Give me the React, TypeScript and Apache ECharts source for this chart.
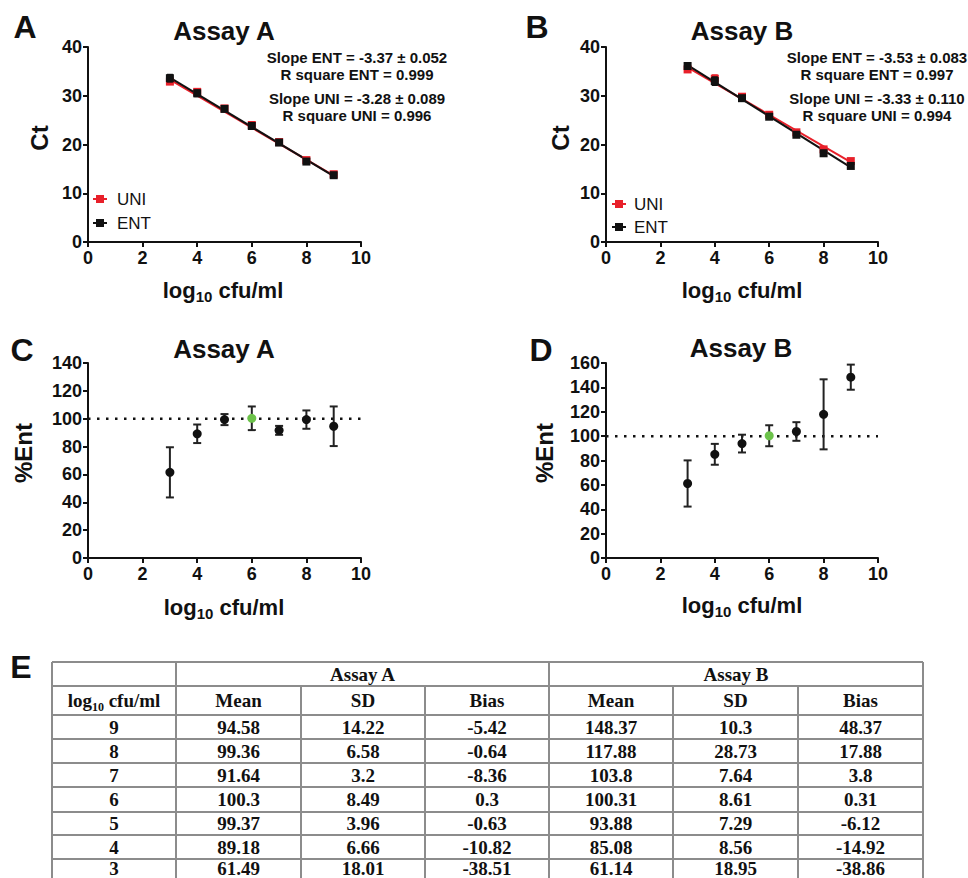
import React, { useEffect, useRef } from 'react';
import * as echarts from 'echarts';

// ---------- data ----------
const log10Cfu = [3, 4, 5, 6, 7, 8, 9];
const fitX = [3, 9];

// Panel A (Assay A standard curves, Ct)
const ctEntA = [33.6, 30.5, 27.3, 23.8, 20.4, 16.5, 13.7];
const ctEntAErr = [0.7, 0.6, 0.3, 0.3, 0.3, 0.5, 0.3];
const ctUniA = [32.9, 30.8, 27.4, 24.0, 20.5, 16.8, 13.9];
const ctUniAErr = [0.4, 0.5, 0.3, 0.4, 0.3, 0.4, 0.3];
const fitEntA = [33.7, 13.5];
const fitUniA = [33.3, 13.6];

// Panel B (Assay B standard curves, Ct)
const ctEntB = [36.1, 33.0, 29.5, 25.7, 22.0, 18.2, 15.6];
const ctEntBErr = [0.6, 0.8, 0.4, 0.4, 0.4, 0.5, 0.4];
const ctUniB = [35.4, 33.5, 29.8, 26.1, 22.5, 19.0, 16.6];
const ctUniBErr = [0.4, 0.7, 0.4, 0.4, 0.4, 0.4, 0.4];
const fitEntB = [36.3, 15.3];
const fitUniB = [35.8, 16.4];

const statsA = ['Slope ENT = -3.37 \u00b1 0.052', 'R square ENT = 0.999', 'Slope UNI = -3.28 \u00b1 0.089', 'R square UNI = 0.996'];
const statsB = ['Slope ENT = -3.53 \u00b1 0.083', 'R square ENT = 0.997', 'Slope UNI = -3.33 \u00b1 0.110', 'R square UNI = 0.994'];

// Panels C/D and table E (%Ent), ordered by log10 cfu/ml 3..9
const meanA = [61.49, 89.18, 99.37, 100.3, 91.64, 99.36, 94.58];
const sdA = [18.01, 6.66, 3.96, 8.49, 3.2, 6.58, 14.22];
const biasA = [-38.51, -10.82, -0.63, 0.3, -8.36, -0.64, -5.42];
const meanB = [61.14, 85.08, 93.88, 100.31, 103.8, 117.88, 148.37];
const sdB = [18.95, 8.56, 7.29, 8.61, 7.64, 28.73, 10.3];
const biasB = [-38.86, -14.92, -6.12, 0.31, 3.8, 17.88, 48.37];
const calibratorLog = 6;
const referenceLevel = 100;

const tableAssays = ['Assay A', 'Assay B'];
const tableColumns = ['Mean', 'SD', 'Bias'];
const tableRowLogs = [9, 8, 7, 6, 5, 4, 3];

// ---------- styles ----------
const SANS = '"Liberation Sans", Arial, Helvetica, sans-serif';
const SERIF = '"Liberation Serif", "Times New Roman", serif';
const RED = '#e8202a';
const BLACK = '#111111';
const GREEN = '#6cc24a';
const BORDER = '#8c8c8c';
const TFONT = 19;

const grids = [
  { left: 88, top: 47, width: 273, height: 195 },
  { left: 606, top: 47, width: 272, height: 195 },
  { left: 88, top: 363, width: 273, height: 195 },
  { left: 606, top: 363, width: 272, height: 195 },
];

function xAxisCfg(i: number) {
  return {
    type: 'value', gridIndex: i, min: 0, max: 10, interval: 2,
    axisLine: { show: true, onZero: false, lineStyle: { color: BLACK, width: 2 } },
    axisTick: { show: true, length: 5, lineStyle: { color: BLACK, width: 2 } },
    axisLabel: { color: BLACK, fontSize: 18, fontWeight: 'bold', fontFamily: SANS, margin: 7 },
    splitLine: { show: false },
  };
}
function yAxisCfg(i: number, max: number, interval: number) {
  return {
    type: 'value', gridIndex: i, min: 0, max, interval,
    axisLine: { show: true, onZero: false, lineStyle: { color: BLACK, width: 2 } },
    axisTick: { show: true, length: 5, lineStyle: { color: BLACK, width: 2 } },
    axisLabel: { color: BLACK, fontSize: 18, fontWeight: 'bold', fontFamily: SANS, margin: 6 },
    splitLine: { show: false },
  };
}

function errorSeries(gi: number, ys: number[], errs: number[], color: string, cap: number, z: number) {
  return {
    type: 'custom', xAxisIndex: gi, yAxisIndex: gi, z,
    encode: { x: 0, y: [1, 2] },
    data: log10Cfu.map((x, i) => [x, ys[i] - errs[i], ys[i] + errs[i]]),
    renderItem: (params: any, api: any) => {
      const x = api.value(0);
      const lo = api.coord([x, api.value(1)]);
      const hi = api.coord([x, api.value(2)]);
      const style = { stroke: color, lineWidth: 2 };
      return {
        type: 'group',
        children: [
          { type: 'line', shape: { x1: lo[0], y1: lo[1], x2: hi[0], y2: hi[1] }, style },
          { type: 'line', shape: { x1: lo[0] - cap, y1: lo[1], x2: lo[0] + cap, y2: lo[1] }, style },
          { type: 'line', shape: { x1: hi[0] - cap, y1: hi[1], x2: hi[0] + cap, y2: hi[1] }, style },
        ],
      };
    },
  };
}

function fitLine(gi: number, ys: number[], color: string, z: number) {
  return {
    type: 'line', xAxisIndex: gi, yAxisIndex: gi, z,
    data: fitX.map((x, i) => [x, ys[i]]),
    symbol: 'none', lineStyle: { color, width: 2 },
  };
}

function points(gi: number, ys: number[], color: string, z: number) {
  return {
    type: 'scatter', xAxisIndex: gi, yAxisIndex: gi, z,
    data: log10Cfu.map((x, i) => [x, ys[i]]),
    symbol: 'rect', symbolSize: 8,
    itemStyle: { color, opacity: 1 },
  };
}

function pctPoints(gi: number, ys: number[]) {
  return {
    type: 'scatter', xAxisIndex: gi, yAxisIndex: gi, z: 5,
    data: log10Cfu.map((x, i) => [x, ys[i]]),
    symbol: 'circle', symbolSize: 9,
    itemStyle: {
      opacity: 1,
      color: (p: any) => (log10Cfu[p.dataIndex] === calibratorLog ? GREEN : BLACK),
    },
  };
}

function refLine(gi: number) {
  return {
    type: 'line', xAxisIndex: gi, yAxisIndex: gi, z: 1,
    data: [[0, referenceLevel], [10, referenceLevel]],
    symbol: 'none',
    lineStyle: { color: BLACK, width: 2.5, type: [2.5, 6.5] },
  };
}

function txt(x: number, y: number, text: string, size: number, opts: any = {}) {
  return {
    type: 'text', x, y, rotation: opts.rotation || 0, z: 10,
    style: {
      text, fill: opts.color || BLACK,
      fontSize: size, fontWeight: opts.weight || 'bold', fontFamily: opts.family || SANS,
      align: opts.align || 'center', verticalAlign: 'middle',
      textAlign: opts.align || 'center', textVerticalAlign: 'middle',
      rich: opts.rich,
    },
  };
}

function xTitle(x: number, y: number) {
  return txt(x, y, '{t|log}{s|10}{t| cfu/ml}', 22, {
    rich: {
      t: { fontSize: 22, fontWeight: 'bold', fontFamily: SANS, fill: BLACK, lineHeight: 28, verticalAlign: 'middle' },
      s: { fontSize: 15, fontWeight: 'bold', fontFamily: SANS, fill: BLACK, lineHeight: 14, verticalAlign: 'bottom' },
    },
  });
}

function legendItems(mx: number, tx: number, y1: number, y2: number) {
  const out: any[] = [];
  [[RED, 'UNI', y1], [BLACK, 'ENT', y2]].forEach(([c, name, y]: any) => {
    out.push({ type: 'line', z: 10, shape: { x1: mx - 7, y1: y, x2: mx + 7, y2: y }, style: { stroke: c, lineWidth: 2 } });
    out.push({ type: 'rect', z: 10, shape: { x: mx - 4, y: y - 4, width: 8, height: 8 }, style: { fill: c } });
    out.push(txt(tx, y, name, 17, { weight: 'normal', align: 'left' }));
  });
  return out;
}

function statsText(cx: number, lines: string[]) {
  const ys = [57, 74, 98, 115];
  return lines.map((l, i) => txt(cx, ys[i], l, 15));
}

function tableGraphics() {
  const colX = [52, 176, 301, 425, 549, 673, 798, 923];
  const rowY = [662, 686, 715, 739, 763, 787, 812, 835, 859, 883];
  const g: any[] = [];
  const ln = (x1: number, y1: number, x2: number, y2: number) =>
    g.push({ type: 'line', z: 5, shape: { x1, y1, x2, y2 }, style: { stroke: BORDER, lineWidth: 2 } });
  rowY.forEach((y) => ln(colX[0], y, colX[7], y));
  colX.forEach((x, i) => {
    const full = i === 0 || i === 1 || i === 4 || i === 7;
    ln(x, full ? rowY[0] : rowY[1], x, rowY[rowY.length - 1]);
  });
  const font = { family: SERIF };
  // header 1
  tableAssays.forEach((a, k) => {
    const x0 = colX[1 + k * 3], x1 = colX[4 + k * 3];
    g.push(txt((x0 + x1) / 2, (rowY[0] + rowY[1]) / 2, a, TFONT, font));
  });
  // header 2
  const h2y = (rowY[1] + rowY[2]) / 2;
  g.push(txt((colX[0] + colX[1]) / 2, h2y, '{t|log}{s|10}{t| cfu/ml}', TFONT, {
    family: SERIF,
    rich: {
      t: { fontSize: TFONT, fontWeight: 'bold', fontFamily: SERIF, fill: BLACK, lineHeight: 24, verticalAlign: 'middle' },
      s: { fontSize: 12, fontWeight: 'bold', fontFamily: SERIF, fill: BLACK, lineHeight: 13, verticalAlign: 'bottom' },
    },
  }));
  for (let k = 0; k < 2; k++) {
    tableColumns.forEach((c, j) => {
      const ci = 1 + k * 3 + j;
      g.push(txt((colX[ci] + colX[ci + 1]) / 2, h2y, c, TFONT, font));
    });
  }
  // body
  const cols = [meanA, sdA, biasA, meanB, sdB, biasB];
  tableRowLogs.forEach((lg, r) => {
    const idx = log10Cfu.indexOf(lg);
    let y = (rowY[r + 2] + rowY[r + 3]) / 2;
    if (r === tableRowLogs.length - 1) y = 868; // keep the last row inside the page
    g.push(txt((colX[0] + colX[1]) / 2, y, String(lg), TFONT, font));
    cols.forEach((arr, j) => {
      g.push(txt((colX[j + 1] + colX[j + 2]) / 2, y, String(arr[idx]), TFONT, font));
    });
  });
  return g;
}

export default function App() {
  const ref = useRef<HTMLDivElement>(null);
  useEffect(() => {
    if (!ref.current) return;
    const chart = echarts.init(ref.current, null, { renderer: 'svg' });
    const graphic: any[] = [
      // panel letters
      txt(25, 27, 'A', 32), txt(537, 27, 'B', 32),
      txt(22, 350, 'C', 32), txt(541, 350, 'D', 32),
      txt(21, 667, 'E', 32),
      // titles
      txt(224, 31, 'Assay A', 26), txt(742, 31, 'Assay B', 26),
      txt(224, 349, 'Assay A', 26), txt(741, 348, 'Assay B', 26),
      // y titles
      txt(39, 138, 'Ct', 24, { rotation: Math.PI / 2 }),
      txt(560, 138, 'Ct', 24, { rotation: Math.PI / 2 }),
      txt(23, 453, '%Ent', 24, { rotation: Math.PI / 2 }),
      txt(544, 453, '%Ent', 24, { rotation: Math.PI / 2 }),
      // x titles
      xTitle(223, 290), xTitle(742, 290), xTitle(224, 607), xTitle(742, 605),
      ...statsText(357, statsA),
      ...statsText(877, statsB),
      ...legendItems(100, 117, 199, 223),
      ...legendItems(619, 634, 204, 227),
      ...tableGraphics(),
    ];
    chart.setOption({
      animation: false,
      backgroundColor: '#ffffff',
      grid: grids.map((g) => ({ ...g, containLabel: false })),
      xAxis: [0, 1, 2, 3].map((i) => xAxisCfg(i)),
      yAxis: [yAxisCfg(0, 40, 10), yAxisCfg(1, 40, 10), yAxisCfg(2, 140, 20), yAxisCfg(3, 160, 20)],
      series: [
        // A
        fitLine(0, fitUniA, RED, 2),
        fitLine(0, fitEntA, BLACK, 3),
        errorSeries(0, ctUniA, ctUniAErr, RED, 3, 4),
        points(0, ctUniA, RED, 4),
        errorSeries(0, ctEntA, ctEntAErr, BLACK, 3, 5),
        points(0, ctEntA, BLACK, 5),
        // B
        fitLine(1, fitUniB, RED, 2),
        fitLine(1, fitEntB, BLACK, 3),
        errorSeries(1, ctUniB, ctUniBErr, RED, 3, 4),
        points(1, ctUniB, RED, 4),
        errorSeries(1, ctEntB, ctEntBErr, BLACK, 3, 5),
        points(1, ctEntB, BLACK, 5),
        // C
        refLine(2),
        errorSeries(2, meanA, sdA, '#222222', 4, 4),
        pctPoints(2, meanA),
        // D
        refLine(3),
        errorSeries(3, meanB, sdB, '#222222', 4, 4),
        pctPoints(3, meanB),
      ],
      graphic: { elements: graphic },
    });
    return () => chart.dispose();
  }, []);
  return (
    <div
      ref={ref}
      style={{ position: 'absolute', left: 0, top: 0, width: 968, height: 878, background: '#fff' }}
    />
  );
}
